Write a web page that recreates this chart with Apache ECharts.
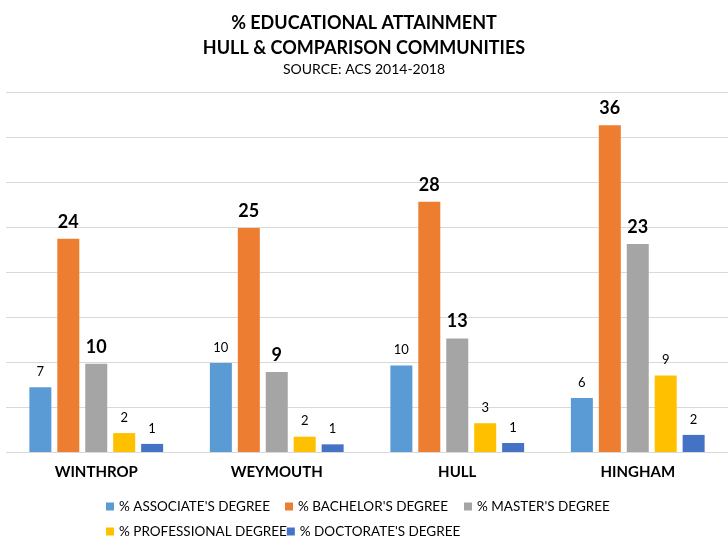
<!DOCTYPE html>
<html><head><meta charset="utf-8">
<script src="https://cdn.jsdelivr.net/npm/echarts@6/dist/echarts.min.js"></script>
<style>html,body{margin:0;padding:0;background:#fff}#c{width:728px;height:541px}</style>
</head><body><div id="c"></div>
<script>
var categories = ['WINTHROP', 'WEYMOUTH', 'HULL', 'HINGHAM'];
var seriesNames = ["% ASSOCIATE'S DEGREE", "% BACHELOR'S DEGREE", "% MASTER'S DEGREE", "% PROFESSIONAL DEGREE", "% DOCTORATE'S DEGREE"];
var associate = [7.2, 9.9, 9.6, 6.0];
var bachelor = [23.7, 24.9, 27.8, 36.3];
var master = [9.8, 8.9, 12.6, 23.1];
var professional = [2.1, 1.7, 3.2, 8.5];
var doctorate = [0.9, 0.85, 1.0, 1.9];
var colors = ['#5B9BD5', '#ED7D31', '#A5A5A5', '#FFC000', '#4472C4'];
var boldSeries = [false, true, true, false, false];
var values = [associate, bachelor, master, professional, doctorate];

var FONT = 'Lato';
var chart = echarts.init(document.getElementById('c'));
var series = values.map(function (v, i) {
  return {
    name: seriesNames[i], type: 'bar', data: v,
    barWidth: 22, barGap: '27%',
    itemStyle: { color: colors[i] },
    label: {
      show: true, position: 'top', distance: boldSeries[i] ? 8 : 9,
      color: '#000', fontFamily: FONT,
      fontSize: boldSeries[i] ? 18 : 13,
      fontWeight: boldSeries[i] ? 'bold' : 'normal',
      formatter: function (p) { return Math.round(p.value); }
    }
  };
});
chart.setOption({
  animation: false,
  title: [
    { text: '% EDUCATIONAL ATTAINMENT\nHULL & COMPARISON COMMUNITIES', left: 'center', top: 6,
      textStyle: { fontFamily: FONT, fontSize: 18, fontWeight: 'bold', color: '#000', lineHeight: 25 } },
    { text: 'SOURCE: ACS 2014-2018', left: 'center', top: 57,
      textStyle: { fontFamily: FONT, fontSize: 14, fontWeight: 'normal', color: '#000' } }
  ],
  grid: { left: 6, right: -6, top: 92, bottom: 89 },
  xAxis: {
    type: 'category', data: categories,
    axisLine: { show: false }, axisTick: { show: false },
    axisLabel: { color: '#000', fontFamily: FONT, fontWeight: 'bold', fontSize: 15, margin: 13 }
  },
  yAxis: {
    type: 'value', min: 0, max: 40, interval: 5,
    axisLabel: { show: false }, axisLine: { show: false }, axisTick: { show: false },
    splitLine: { lineStyle: { color: '#D9D9D9', width: 1 } }
  },
  legend: {
    left: 106, top: 494, width: 560, itemGap: 0, padding: 0,
    itemWidth: 8, itemHeight: 8, icon: 'rect', itemStyle: { borderWidth: 0 },
    formatter: '{a|{name}}',
    textStyle: {
      fontFamily: FONT, fontSize: 13.5, color: '#000',
      rich: { a: { width: 166, height: 25, lineHeight: 25, fontFamily: FONT, fontSize: 13.5, color: '#000' } }
    },
    data: seriesNames
  },
  series: series
});
</script></body></html>
